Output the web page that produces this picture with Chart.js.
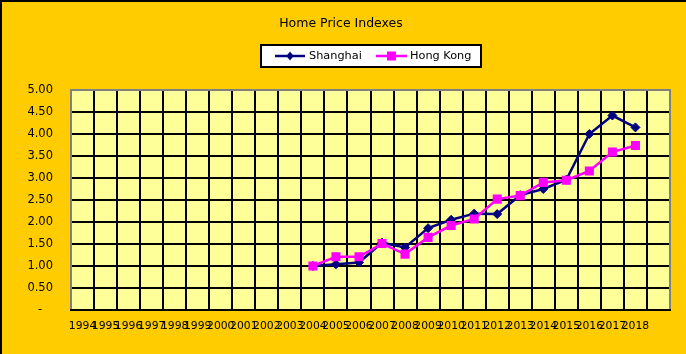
<!DOCTYPE html>
<html>
<head>
<meta charset="utf-8">
<script src="https://cdn.jsdelivr.net/npm/chart.js@4"></script>
<style>
  html, body { margin: 0; padding: 0; background: #FFCC00; }
  #wrap { position: relative; width: 686px; height: 354px; }
</style>
</head>
<body>
<div id="wrap"><canvas id="chart"></canvas></div>
<script>
// categories (last one is an empty slot, as in the source sheet)
const years = ['1994', '1995', '1996', '1997', '1998', '1999', '2000', '2001', '2002', '2003',
  '2004', '2005', '2006', '2007', '2008', '2009', '2010', '2011', '2012', '2013',
  '2014', '2015', '2016', '2017', '2018', ''];

// index values
const shanghai = [null, null, null, null, null, null, null, null, null, null,
  1.00, 1.04, 1.08, 1.53, 1.42, 1.86, 2.05, 2.19, 2.18, 2.61,
  2.75, 2.96, 4.00, 4.42, 4.15, null];
const hongKong = [null, null, null, null, null, null, null, null, null, null,
  1.00, 1.21, 1.21, 1.51, 1.27, 1.65, 1.92, 2.07, 2.52, 2.60,
  2.90, 2.95, 3.16, 3.59, 3.74, null];

const yTicks = { min: 0, max: 5, step: 0.5 };

const chartTitle = 'Home Price Indexes';
const FONT = '"DejaVu Sans", Verdana, sans-serif';

// background, plot area, border, title and legend box
const decor = {
  id: 'decor',
  beforeDraw(chart) {
    const { ctx, chartArea: a, width, height } = chart;
    ctx.save();
    ctx.fillStyle = '#FFCC00';
    ctx.fillRect(0, 0, width, height);
    ctx.fillStyle = '#FFFF99';
    ctx.fillRect(a.left, a.top, a.right - a.left, a.bottom - a.top);
    // only the top and left edges carry a dark frame
    ctx.fillStyle = '#000';
    ctx.fillRect(0, 0, width, 2);
    ctx.fillRect(0, 0, 2, height);
    ctx.restore();
  },
  beforeDatasetsDraw(chart) {
    const { ctx, chartArea: a } = chart;
    ctx.save();
    ctx.strokeStyle = '#808080';
    ctx.lineWidth = 2;
    ctx.beginPath();
    ctx.moveTo(a.left, a.bottom);
    ctx.lineTo(a.left, a.top);
    ctx.lineTo(a.right, a.top);
    ctx.lineTo(a.right, a.bottom);
    ctx.stroke();
    ctx.strokeStyle = '#000';
    ctx.beginPath();
    ctx.moveTo(a.left - 1, a.bottom);
    ctx.lineTo(a.right + 1, a.bottom);
    ctx.stroke();
    ctx.restore();
  },
  afterDraw(chart) {
    const { ctx } = chart;
    ctx.save();
    ctx.fillStyle = '#000';
    ctx.font = '12.5px ' + FONT;
    ctx.textAlign = 'center';
    ctx.textBaseline = 'middle';
    ctx.fillText(chartTitle, 341, 24);

    // legend box
    ctx.fillStyle = '#fff';
    ctx.fillRect(260, 44, 222, 24);
    ctx.strokeStyle = '#000';
    ctx.lineWidth = 2;
    ctx.strokeRect(261, 45, 220, 22);

    const ds = chart.data.datasets;
    const items = [
      { d: ds[0], x0: 275, x1: 305, tx: 309 },
      { d: ds[1], x0: 376, x1: 407, tx: 410 }
    ];
    ctx.font = '11.3px ' + FONT;
    ctx.textAlign = 'left';
    items.forEach(it => {
      const y = 56, cx = (it.x0 + it.x1) / 2;
      ctx.strokeStyle = it.d.borderColor;
      ctx.lineWidth = 2.5;
      ctx.beginPath();
      ctx.moveTo(it.x0, y);
      ctx.lineTo(it.x1, y);
      ctx.stroke();
      ctx.fillStyle = it.d.borderColor;
      ctx.beginPath();
      if (it.d.pointStyle === 'rectRot') {
        ctx.moveTo(cx, y - 4.5); ctx.lineTo(cx + 3.5, y);
        ctx.lineTo(cx, y + 4.5); ctx.lineTo(cx - 3.5, y);
        ctx.closePath();
      } else {
        ctx.rect(cx - 4.5, y - 4.5, 9, 9);
      }
      ctx.fill();
      ctx.fillStyle = '#000';
      ctx.fillText(it.d.label, it.tx, y + 0.5);
    });
    ctx.restore();
  }
};

new Chart(document.getElementById('chart'), {
  type: 'line',
  data: {
    labels: years,
    datasets: [
      {
        label: 'Shanghai',
        data: shanghai,
        borderColor: '#000080',
        backgroundColor: '#000080',
        borderWidth: 2.5,
        pointStyle: 'rectRot',
        pointRadius: 4.5,
        pointBorderWidth: 1,
        tension: 0,
        order: 1
      },
      {
        label: 'Hong Kong',
        data: hongKong,
        borderColor: '#FF00FF',
        backgroundColor: '#FF00FF',
        borderWidth: 2.5,
        pointStyle: 'rect',
        pointRadius: 6.4,
        pointBorderWidth: 0,
        tension: 0,
        order: 0
      }
    ]
  },
  options: {
    responsive: true,
    maintainAspectRatio: false,
    animation: false,
    devicePixelRatio: 1,
    layout: { padding: { top: 90, right: 16, bottom: 0, left: 0 } },
    plugins: {
      legend: { display: false },
      title: { display: false },
      tooltip: { enabled: false }
    },
    scales: {
      x: {
        offset: true,
        grid: { offset: true, color: '#000', lineWidth: 2, drawTicks: false },
        border: { display: false },
        ticks: {
          autoSkip: false,
          maxRotation: 0,
          minRotation: 0,
          padding: 10,
          color: '#000',
          font: { family: FONT, size: 10.8 }
        },
        afterFit: s => { s.height = 44; }
      },
      y: {
        min: yTicks.min,
        max: yTicks.max,
        grid: { color: '#000', lineWidth: 2, drawTicks: false },
        border: { display: false },
        ticks: {
          stepSize: yTicks.step,
          padding: 18,
          color: '#000',
          font: { family: FONT, size: 11.5 },
          callback: v => v === 0 ? '-   ' : v.toFixed(2)
        },
        afterFit: s => { s.width = 71; }
      }
    }
  },
  plugins: [decor]
});
</script>
</body>
</html>
